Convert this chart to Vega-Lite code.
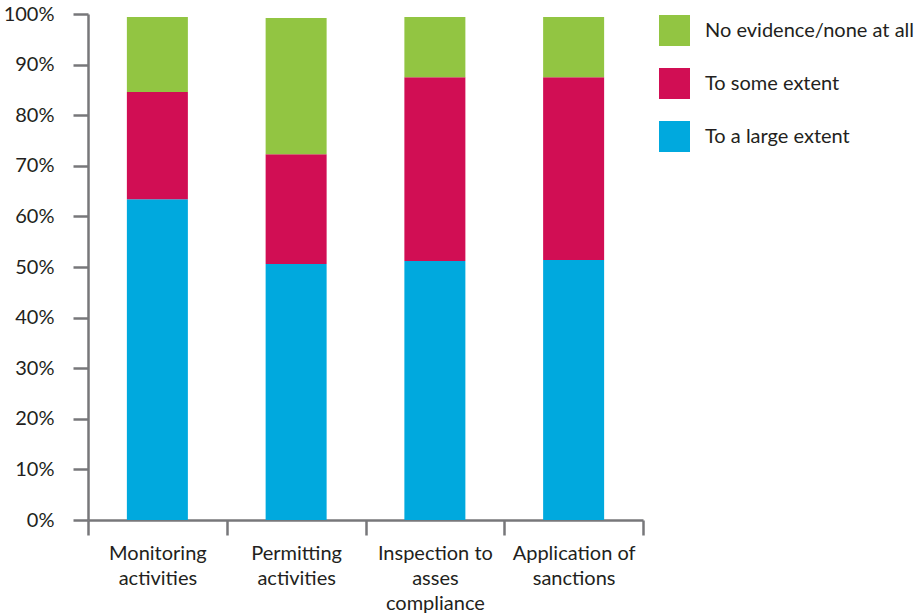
{
  "$schema": "https://vega.github.io/schema/vega-lite/v6.json",
  "autosize": "none",
  "width": 555,
  "height": 506,
  "padding": {"left": 88, "top": 14, "right": 280, "bottom": 95},
  "background": "white",
  "config": {
    "view": {"stroke": null},
    "font": "Lato",
    "axis": {
      "grid": false,
      "domainColor": "#77777a",
      "domainWidth": 2.5,
      "tickColor": "#77777a",
      "tickWidth": 2.5,
      "tickSize": 15,
      "labelFont": "Lato",
      "labelFontSize": 20,
      "labelColor": "#231f20",
      "title": null
    }
  },
  "data": {
    "values": [
      {"activity": "Monitoring activities", "response": "To a large extent", "share": 63.4},
      {"activity": "Monitoring activities", "response": "To some extent", "share": 21.2},
      {"activity": "Monitoring activities", "response": "No evidence/none at all", "share": 14.8},
      {"activity": "Permitting activities", "response": "To a large extent", "share": 50.6},
      {"activity": "Permitting activities", "response": "To some extent", "share": 21.7},
      {"activity": "Permitting activities", "response": "No evidence/none at all", "share": 26.9},
      {"activity": "Inspection to asses compliance", "response": "To a large extent", "share": 51.2},
      {"activity": "Inspection to asses compliance", "response": "To some extent", "share": 36.3},
      {"activity": "Inspection to asses compliance", "response": "No evidence/none at all", "share": 11.9},
      {"activity": "Application of sanctions", "response": "To a large extent", "share": 51.4},
      {"activity": "Application of sanctions", "response": "To some extent", "share": 36.1},
      {"activity": "Application of sanctions", "response": "No evidence/none at all", "share": 11.9}
    ]
  },
  "transform": [
    {"calculate": "indexof(['To a large extent', 'To some extent', 'No evidence/none at all'], datum.response)", "as": "stackRank"}
  ],
  "mark": {"type": "bar", "size": 61},
  "encoding": {
    "x": {
      "field": "activity",
      "type": "nominal",
      "sort": null,
      "scale": {"paddingInner": 0, "paddingOuter": 0},
      "axis": {
        "labelAngle": 0,
        "tickBand": "extent",
        "labelPadding": 8,
        "labelLineHeight": 25,
        "labelExpr": "datum.value == 'Monitoring activities' ? ['Monitoring', 'activities'] : datum.value == 'Permitting activities' ? ['Permitting', 'activities'] : datum.value == 'Inspection to asses compliance' ? ['Inspection to', 'asses', 'compliance'] : datum.value == 'Application of sanctions' ? ['Application of', 'sanctions'] : ''"
      }
    },
    "y": {
      "field": "share",
      "type": "quantitative",
      "stack": "zero",
      "scale": {"domain": [0, 100], "nice": false},
      "axis": {
        "values": [0, 10, 20, 30, 40, 50, 60, 70, 80, 90, 100],
        "labelExpr": "datum.value + '%'",
        "labelPadding": 19
      }
    },
    "order": {"field": "stackRank", "type": "quantitative", "sort": "ascending"},
    "color": {
      "field": "response",
      "type": "nominal",
      "scale": {
        "domain": ["No evidence/none at all", "To some extent", "To a large extent"],
        "range": ["#92c542", "#d10e54", "#00a9de"]
      },
      "legend": {
        "title": null,
        "orient": "none",
        "legendX": 571,
        "legendY": 1,
        "symbolType": "square",
        "symbolSize": 961,
        "symbolStrokeWidth": 0,
        "symbolOpacity": 1,
        "labelFont": "Lato",
        "labelFontSize": 20,
        "labelColor": "#231f20",
        "labelOffset": 15,
        "labelLimit": 0,
        "rowPadding": 22,
        "padding": 0
      }
    }
  }
}
